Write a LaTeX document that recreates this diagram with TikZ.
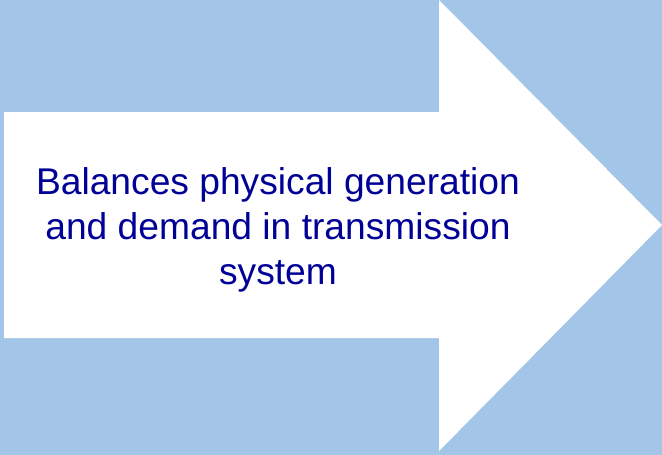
\documentclass[tikz,border=0pt]{standalone}
\usepackage{fontspec}
\setmainfont{Liberation Sans}
\usepackage{xcolor}
\usepackage{tikz}
\usetikzlibrary{calc}

\definecolor{skyback}{RGB}{163,198,232}
\definecolor{navytext}{RGB}{0,0,150}

\begin{document}
\begin{tikzpicture}[x=1pt,y=-1pt]
		\coordinate (c1) at (0,0);
		\coordinate (c2) at (662,455);
		%background
		\fill[skyback] (c1) rectangle (c2);
		\useasboundingbox (c1) rectangle (c2);
		
		%arrow
		\coordinate (tl) at (4,112);
		\coordinate (bl) at (4,338);
		\coordinate (tip) at (662,225);
		\fill[white] (tl) -- (439,112) -- (439,0) -- (tip) -- (439,451) -- (439,338) -- (bl) -- cycle;
		
		%text
		\node[align=center,text=navytext,font={\fontsize{37.2}{45}\selectfont}] (label) at (278,230)
			{Balances physical generation\\and demand in transmission\\system};
		
		\end{tikzpicture}
\end{document}
